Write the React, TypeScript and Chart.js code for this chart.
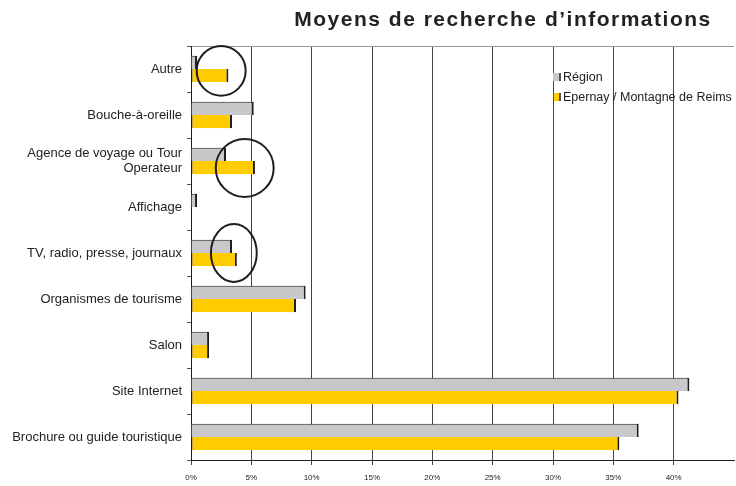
import React, { useEffect, useRef } from 'react';
import { Chart, registerables } from 'chart.js';

Chart.register(...registerables);

const TITLE = 'Moyens de recherche d’informations';
const CATEGORIES: (string | string[])[] = [
  'Autre',
  'Bouche-à-oreille',
  ['Agence de voyage ou Tour', 'Operateur'],
  'Affichage',
  'TV, radio, presse, journaux',
  'Organismes de tourisme',
  'Salon',
  'Site Internet',
  'Brochure ou guide touristique',
];
const SERIES_NAMES = ['Région', 'Epernay / Montagne de Reims'];
const REGION = [0.5, 5.2, 2.9, 0.5, 3.4, 9.5, 1.5, 41.3, 37.1];
const EPERNAY = [3.1, 3.4, 5.3, 0, 3.8, 8.7, 1.5, 40.4, 35.5];
const X_MIN = 0;
const X_MAX = 45;
const X_STEP = 5;
// highlighted categories (ellipses): category index, center value (%), vertical offset (categories), radii
const HL_CATEGORY = [0, 2, 4];
const HL_VALUE = [2.5, 4.45, 3.55];
const HL_OFFSET = [0.04, 0.15, 0.0];
const HL_RX = [2.03, 2.4, 1.9];
const HL_RY = [0.54, 0.63, 0.63];

const COLORS = ['#C8C8CA', '#FFCC00'];
const DARK = '#1e1e1e';
const FONT = '"Liberation Sans", Arial, sans-serif';

const overlayPlugin = {
  id: 'overlay',
  afterDatasetsDraw(chart: any) {
    const { ctx, scales } = chart;
    const xs = scales.x;
    const ys = scales.y;
    const catH = ys.getPixelForValue(1) - ys.getPixelForValue(0);
    const unit = xs.getPixelForValue(1) - xs.getPixelForValue(0);
    ctx.save();
    ctx.strokeStyle = DARK;
    ctx.lineWidth = 2;
    for (let i = 0; i < HL_CATEGORY.length; i++) {
      const cx = xs.getPixelForValue(HL_VALUE[i]);
      const cy = ys.getPixelForValue(HL_CATEGORY[i]) + HL_OFFSET[i] * catH;
      ctx.beginPath();
      ctx.ellipse(cx, cy, HL_RX[i] * unit, HL_RY[i] * catH, 0, 0, Math.PI * 2);
      ctx.stroke();
    }
    ctx.restore();
  },
  afterDraw(chart: any) {
    const { ctx } = chart;
    ctx.save();
    // title
    ctx.fillStyle = '#222';
    ctx.font = `bold 21px ${FONT}`;
    (ctx as any).letterSpacing = '1.5px';
    ctx.textAlign = 'center';
    ctx.textBaseline = 'middle';
    ctx.fillText(TITLE, 503, 20);
    (ctx as any).letterSpacing = '0px';
    // legend
    ctx.font = `12.5px ${FONT}`;
    ctx.textAlign = 'left';
    const lx = 553;
    const ly = [77, 97];
    for (let i = 0; i < SERIES_NAMES.length; i++) {
      ctx.fillStyle = COLORS[i];
      ctx.fillRect(lx, ly[i] - 4, 8, 8);
      ctx.fillStyle = '#555';
      ctx.fillRect(lx + 6, ly[i] - 4, 2, 8);
      if (i === 1) ctx.fillRect(lx, ly[i] - 4, 1, 8);
      ctx.fillStyle = '#222';
      ctx.fillText(SERIES_NAMES[i], lx + 10, ly[i] + 1);
    }
    ctx.restore();
    (ctx as any).letterSpacing = '0px';
  },
};

export default function App() {
  const ref = useRef<HTMLCanvasElement>(null);
  useEffect(() => {
    if (!ref.current) return;
    const chart = new Chart(ref.current, {
      type: 'bar',
      data: {
        labels: CATEGORIES as any,
        datasets: [
          {
            label: SERIES_NAMES[0],
            data: REGION,
            backgroundColor: COLORS[0],
            borderColor: DARK,
            borderWidth: { top: 1, right: 2, bottom: 0, left: 0 } as any,
            borderSkipped: false,
          },
          {
            label: SERIES_NAMES[1],
            data: EPERNAY,
            backgroundColor: COLORS[1],
            borderColor: DARK,
            borderWidth: { top: 0, right: 2, bottom: 0, left: 1 } as any,
            borderSkipped: false,
          },
        ],
      },
      options: {
        indexAxis: 'y',
        responsive: false,
        animation: false,
        layout: { padding: { top: 46, right: 2, left: 0, bottom: 0 } },
        datasets: { bar: { categoryPercentage: 0.58, barPercentage: 1 } } as any,
        plugins: { legend: { display: false }, title: { display: false }, tooltip: { enabled: false } },
        scales: {
          x: {
            min: X_MIN,
            max: X_MAX,
            ticks: {
              stepSize: X_STEP,
              maxRotation: 0,
              color: '#222',
              font: { size: 8, family: FONT },
              padding: 8,
              callback: (v: any) => (v === X_MAX ? '' : v + '%'),
            },
            grid: {
              color: (c: any) => (c.tick && c.tick.value === X_MAX ? 'transparent' : '#444'),
              tickColor: (c: any) => (c.tick && c.tick.value === X_MAX ? 'transparent' : '#444'),
              tickLength: 5,
              lineWidth: 1,
            },
            border: { color: DARK, width: 1 },
            afterFit: (s: any) => {
              s.height = 26;
              s.paddingLeft = 0;
              s.paddingRight = 0;
            },
          },
          y: {
            ticks: {
              color: '#222',
              font: { size: 13, family: FONT },
              padding: 5,
            },
            grid: {
              offset: true,
              tickLength: 4,
              color: (c: any) => (c.index === 0 ? '#999' : 'transparent'),
              tickColor: '#555',
            },
            border: { color: DARK, width: 1 },
            afterFit: (s: any) => {
              s.width = 191;
              s.paddingTop = 0;
              s.paddingBottom = 0;
            },
          },
        },
      },
      plugins: [overlayPlugin],
    });
    return () => chart.destroy();
  }, []);
  return (
    <canvas
      ref={ref}
      width={736}
      height={486}
      style={{ position: 'absolute', left: 0, top: 0, width: 736, height: 486 }}
    />
  );
}
